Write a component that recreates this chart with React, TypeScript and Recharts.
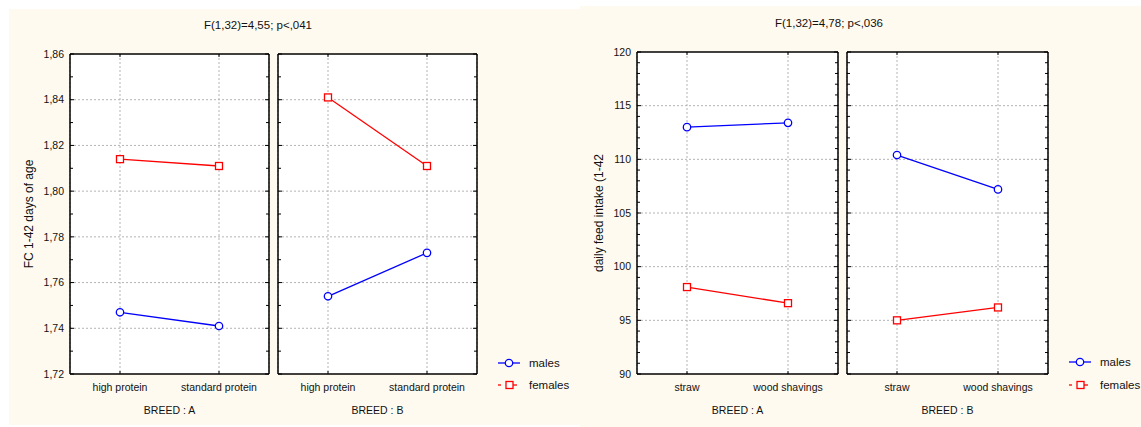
import React from "react";
import { LineChart, Line, XAxis, YAxis, CartesianGrid } from "recharts";

// categories
const proteinCats = ["high protein", "standard protein"];
const beddingCats = ["straw", "wood shavings"];

// FC 1-42 days of age
const fcMalesA = [1.747, 1.741];
const fcFemalesA = [1.814, 1.811];
const fcMalesB = [1.754, 1.773];
const fcFemalesB = [1.841, 1.811];

// daily feed intake (1-42)
const dfiMalesA = [113.0, 113.4];
const dfiFemalesA = [98.1, 96.6];
const dfiMalesB = [110.4, 107.2];
const dfiFemalesB = [95.0, 96.2];

// ticks
const fcMajor = [1.72, 1.74, 1.76, 1.78, 1.8, 1.82, 1.84, 1.86];
const fcMinor = [1.72, 1.73, 1.74, 1.75, 1.76, 1.77, 1.78, 1.79, 1.8, 1.81, 1.82, 1.83, 1.84, 1.85, 1.86];
const dfiMajor = [90, 95, 100, 105, 110, 115, 120];
const dfiMinor = Array.from({ length: 31 }, (_, i) => 90 + i);

const FONT = "'Liberation Sans', Arial, sans-serif";
const BLUE = "#0000ff";
const RED = "#ff0000";
const CREAM = "#fffaf0";

const YW = 60;

function isMajor(v: number, majors: number[]) {
  return majors.some((m) => Math.abs(m - v) < 1e-6);
}

interface PanelProps {
  cats: string[];
  males: number[];
  females: number[];
  domain: [number, number];
  major: number[];
  minor: number[];
  fmt: (v: number) => string;
  px: number;
  py: number;
  pw: number;
  ph: number;
  showY: boolean;
  yLabel?: string;
  yLabelX?: number;
  xTitle: string;
}

function Panel(p: PanelProps) {
  const left = p.px - YW;
  const top = p.py - 20;
  const width = YW + p.pw + 1 + 4;
  const height = 20 + p.ph + 45;
  const data = p.cats.map((c, i) => ({ cat: c, males: p.males[i], females: p.females[i] }));
  const pad = Math.round(p.pw / 4);
  const inner = p.major.filter((v) => v !== p.domain[0] && v !== p.domain[1]);

  const leftTick = (t: any) => {
    const v = t.payload.value;
    const mj = isMajor(v, p.major);
    return (
      <g>
        <line x1={t.x} x2={t.x + (mj ? 4 : 3)} y1={t.y} y2={t.y} stroke="#000" />
        {p.showY && mj && (
          <text x={t.x - 6} y={t.y} dy="0.35em" textAnchor="end" fontSize={10.5} fontFamily={FONT} fill="#111">
            {p.fmt(v)}
          </text>
        )}
      </g>
    );
  };
  const rightTick = (t: any) => {
    const mj = isMajor(t.payload.value, p.major);
    return <line x1={t.x - (mj ? 4 : 3)} x2={t.x} y1={t.y} y2={t.y} stroke="#000" />;
  };
  const bottomTick = (t: any) => (
    <g>
      <line x1={t.x} x2={t.x} y1={t.y - 3} y2={t.y} stroke="#000" />
      <text x={t.x} y={t.y + 17} textAnchor="middle" fontSize={10.5} fontFamily={FONT} fill="#111">
        {t.payload.value}
      </text>
    </g>
  );
  const topTick = (t: any) => <line x1={t.x} x2={t.x} y1={t.y} y2={t.y + 3} stroke="#000" />;

  const square = (d: any) => (
    <rect
      key={`sq-${d.index}`}
      x={d.cx - 3.5}
      y={d.cy - 3.5}
      width={7}
      height={7}
      fill="#fff"
      stroke={RED}
      strokeWidth={1.3}
    />
  );

  return (
    <>
      <div style={{ position: "absolute", left: p.px, top: p.py, width: p.pw, height: p.ph, background: "#fff" }} />
      <div style={{ position: "absolute", left, top }}>
        <LineChart width={width} height={height} data={data} margin={{ top: 19, right: 4, left: 0, bottom: 0 }}>
          <CartesianGrid
            xAxisId="b"
            yAxisId="l"
            stroke="#b4b4b4"
            strokeDasharray="2 2"
            horizontalValues={inner}
          />
          <XAxis
            xAxisId="b"
            dataKey="cat"
            padding={{ left: pad, right: pad }}
            height={45}
            tickSize={0}
            tickMargin={0}
            tickLine={false}
            axisLine={{ stroke: "#000", strokeWidth: 1.5 }}
            tick={bottomTick}
            interval={0}
            label={{
              value: p.xTitle,
              position: "insideBottom",
              offset: 5,
              fontSize: 10.5,
              fontFamily: FONT,
              fill: "#111",
            }}
          />
          <XAxis
            xAxisId="t"
            orientation="top"
            dataKey="cat"
            padding={{ left: pad, right: pad }}
            height={1}
            tickSize={0}
            tickMargin={0}
            tickLine={false}
            axisLine={{ stroke: "#000", strokeWidth: 1.5 }}
            tick={topTick}
            interval={0}
          />
          <YAxis
            yAxisId="l"
            width={YW}
            domain={p.domain}
            ticks={p.minor}
            interval={0}
            type="number"
            allowDataOverflow
            tickSize={0}
            tickMargin={0}
            tickLine={false}
            axisLine={{ stroke: "#000", strokeWidth: 1.5 }}
            tick={leftTick}
            label={
              p.yLabel
                ? (lp: any) => {
                    const vb = lp.viewBox || {};
                    const cx = (p.yLabelX ?? 0) - left;
                    const cy = (vb.y ?? 20) + (vb.height ?? p.ph) / 2;
                    return (
                      <text
                        x={cx}
                        y={cy}
                        transform={`rotate(-90 ${cx} ${cy})`}
                        textAnchor="middle"
                        dy="0.35em"
                        fontSize={12}
                        fontFamily={FONT}
                        fill="#111"
                      >
                        {p.yLabel}
                      </text>
                    );
                  }
                : undefined
            }
          />
          <YAxis
            yAxisId="r"
            orientation="right"
            width={1}
            domain={p.domain}
            ticks={p.minor}
            interval={0}
            type="number"
            allowDataOverflow
            tickSize={0}
            tickMargin={0}
            tickLine={false}
            axisLine={{ stroke: "#000", strokeWidth: 1.5 }}
            tick={rightTick}
          />
          <Line
            xAxisId="b"
            yAxisId="l"
            dataKey="males"
            type="linear"
            stroke={BLUE}
            strokeWidth={1.3}
            dot={{ r: 3.7, fill: "#fff", stroke: BLUE, strokeWidth: 1.3 }}
            activeDot={false}
            isAnimationActive={false}
          />
          <Line
            xAxisId="b"
            yAxisId="l"
            dataKey="females"
            type="linear"
            stroke={RED}
            strokeWidth={1.3}
            dot={square}
            activeDot={false}
            isAnimationActive={false}
          />
        </LineChart>
      </div>
    </>
  );
}

function LegendMarks({ x, y1, y2 }: { x: number; y1: number; y2: number }) {
  return (
    <g fontFamily={FONT} fontSize={11.5} fill="#111">
      <line x1={x} x2={x + 22} y1={y1} y2={y1} stroke={BLUE} strokeWidth={1.3} />
      <circle cx={x + 11} cy={y1} r={3.7} fill="#fff" stroke={BLUE} strokeWidth={1.3} />
      <text x={x + 31} y={y1} dy="0.35em">
        males
      </text>
      <line x1={x} x2={x + 3} y1={y2} y2={y2} stroke={RED} strokeWidth={1.3} />
      <line x1={x + 15} x2={x + 19} y1={y2} y2={y2} stroke={RED} strokeWidth={1.3} />
      <rect x={x + 8} y={y2 - 3.5} width={7} height={7} fill="#fff" stroke={RED} strokeWidth={1.3} />
      <text x={x + 31} y={y2} dy="0.35em">
        females
      </text>
    </g>
  );
}

const fc2 = (v: number) => v.toFixed(2).replace(".", ",");
const int = (v: number) => String(v);

export default function App() {
  return (
    <div style={{ position: "absolute", left: 0, top: 0, width: 1141, height: 427, background: "#fff", overflow: "hidden" }}>
      <div style={{ position: "absolute", left: 9, top: 9, width: 571, height: 416, background: CREAM }} />
      <div style={{ position: "absolute", left: 580, top: 6, width: 561, height: 421, background: CREAM }} />

      <Panel
        cats={proteinCats}
        males={fcMalesA}
        females={fcFemalesA}
        domain={[1.72, 1.86]}
        major={fcMajor}
        minor={fcMinor}
        fmt={fc2}
        px={70}
        py={54}
        pw={199}
        ph={320}
        showY
        yLabel="FC 1-42 days of age"
        yLabelX={29}
        xTitle="BREED :  A"
      />
      <Panel
        cats={proteinCats}
        males={fcMalesB}
        females={fcFemalesB}
        domain={[1.72, 1.86]}
        major={fcMajor}
        minor={fcMinor}
        fmt={fc2}
        px={278}
        py={54}
        pw={199}
        ph={320}
        showY={false}
        xTitle="BREED :  B"
      />
      <Panel
        cats={beddingCats}
        males={dfiMalesA}
        females={dfiFemalesA}
        domain={[90, 120]}
        major={dfiMajor}
        minor={dfiMinor}
        fmt={int}
        px={637}
        py={52}
        pw={201}
        ph={322}
        showY
        yLabel="daily feed intake (1-42"
        yLabelX={599}
        xTitle="BREED :  A"
      />
      <Panel
        cats={beddingCats}
        males={dfiMalesB}
        females={dfiFemalesB}
        domain={[90, 120]}
        major={dfiMajor}
        minor={dfiMinor}
        fmt={int}
        px={847}
        py={52}
        pw={201}
        ph={322}
        showY={false}
        xTitle="BREED :  B"
      />

      <svg
        width={1141}
        height={427}
        style={{ position: "absolute", left: 0, top: 0, pointerEvents: "none" }}
      >
        <text x={258} y={25} dy="0.35em" textAnchor="middle" fontFamily={FONT} fontSize={11.5} fill="#111">
          F(1,32)=4,55; p&lt;,041
        </text>
        <text x={829} y={23} dy="0.35em" textAnchor="middle" fontFamily={FONT} fontSize={11.5} fill="#111">
          F(1,32)=4,78; p&lt;,036
        </text>
        <LegendMarks x={498} y1={363} y2={385} />
        <LegendMarks x={1069} y1={362} y2={385} />
      </svg>
    </div>
  );
}
